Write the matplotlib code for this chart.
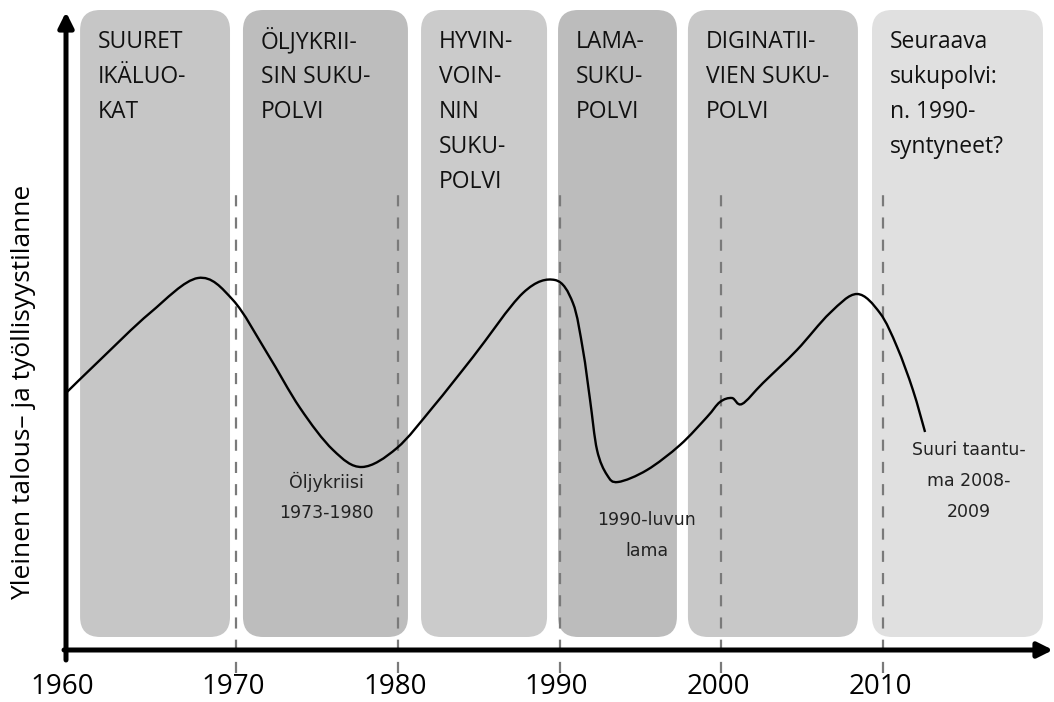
import matplotlib
matplotlib.use("Agg")
import matplotlib.pyplot as plt
from matplotlib.patches import FancyBboxPatch, PathPatch
from matplotlib.path import Path
import numpy as np

# ---------------- data ----------------
tick_years = [1960, 1970, 1980, 1990, 2000, 2010]
divider_years = [1970, 1980, 1990, 2000, 2010]

# generation periods (start year, end year)
gen_start = [1960.36, 1970.43, 1981.44, 1989.91, 1997.94, 2009.32]
gen_end = [1969.63, 1980.63, 1989.23, 1997.26, 2008.45, 2019.89]
gen_labels = [
    ["SUURET", "IKÄLUO-", "KAT"],
    ["ÖLJYKRII-", "SIN SUKU-", "POLVI"],
    ["HYVIN-", "VOIN-", "NIN", "SUKU-", "POLVI"],
    ["LAMA-", "SUKU-", "POLVI"],
    ["DIGINATII-", "VIEN SUKU-", "POLVI"],
    ["Seuraava", "sukupolvi:", "n. 1990-", "syntyneet?"],
]
gen_colors = ["#c6c6c6", "#bdbdbd", "#cbcbcb", "#bcbcbc", "#c8c8c8", "#e0e0e0"]

# economic / employment situation curve
curve_year = [1959.55, 1961.59, 1964.68, 1967.65, 1969.81, 1971.92, 1973.96,
              1976.00, 1977.79, 1979.95, 1982.18, 1984.65, 1987.74,
              1989.72, 1990.83, 1991.45, 1991.89, 1992.32, 1992.94, 1993.62,
              1995.41, 1997.45, 1999.12, 1999.92, 2000.66, 2001.28, 2002.58,
              2004.68, 2006.72, 2008.39, 2009.81, 2010.87, 2011.85, 2012.60]
curve_level = [258, 290, 337, 372, 350, 297, 242,
               200, 183, 202, 243, 293, 357,
               370, 347, 300, 250, 200, 175, 168,
               180, 205, 233, 248, 252, 246, 267,
               300, 337, 356, 337, 303, 260, 218]

# crisis annotations
crisis_lines = [["Öljykriisi", "1973-1980"], ["1990-luvun", "lama"],
                ["Suuri taantu-", "ma 2008-", "2009"]]
crisis_year = [1975.6, 1995.4, 2015.3]
crisis_top = [168, 130, 200]

ylabel = "Yleinen talous– ja työllisyystilanne"

# ---------------- figure ----------------
W, H = 1054, 702
fig = plt.figure(figsize=(W / 100, H / 100), dpi=100)
ax = fig.add_axes([0, 0, 1, 1])
px_per_year = 16.175
x0 = 1970 - 236 / px_per_year
ax.set_xlim(x0, x0 + W / px_per_year)
ax.set_ylim(-52, 650)
ax.axis("off")

def px2yr(p):
    return p / px_per_year

# boxes
for s, e, c, lab in zip(gen_start, gen_end, gen_colors, gen_labels):
    box = FancyBboxPatch((s, 13), e - s, 640 - 13,
                         boxstyle="round,pad=0,rounding_size=1.25",
                         mutation_aspect=16.175,
                         facecolor=c, edgecolor="none", zorder=1)
    ax.add_patch(box)
    for i, line in enumerate(lab):
        ax.text(s + px2yr(18), 602 - 35 * i, line, fontsize=16.5,
                family="Open Sans", color="#111111", va="baseline",
                ha="left", zorder=3)

# dashed dividers
for yr in divider_years:
    ax.plot([yr, yr], [-23, 463], color="#7a7a7a", lw=1.6,
            dashes=(5, 5), zorder=2)

# smooth curve through read points (Catmull-Rom -> Bezier)
pts = np.column_stack([curve_year, curve_level]).astype(float)
verts = [tuple(pts[0])]
codes = [Path.MOVETO]
n = len(pts)
for i in range(n - 1):
    p0 = pts[i - 1] if i > 0 else pts[i]
    p1 = pts[i]
    p2 = pts[i + 1]
    p3 = pts[i + 2] if i + 2 < n else pts[i + 1]
    c1 = p1 + (p2 - p0) / 6.0
    c2 = p2 - (p3 - p1) / 6.0
    verts += [tuple(c1), tuple(c2), tuple(p2)]
    codes += [Path.CURVE4] * 3
ax.add_patch(PathPatch(Path(verts, codes), facecolor="none",
                       edgecolor="black", lw=1.7, zorder=4))

# crisis annotations
for lines, yr, top in zip(crisis_lines, crisis_year, crisis_top):
    for i, line in enumerate(lines):
        ax.text(yr, top - 31 * i, line, fontsize=12.5, family="DejaVu Sans",
                color="#222222", ha="center", va="center", zorder=5)

# axes arrows
y_axis_x = 1970 - (236 - 66) / px_per_year
ax.annotate("", xy=(y_axis_x, 638), xytext=(y_axis_x, -10),
            arrowprops=dict(arrowstyle="-|>,head_length=0.9,head_width=0.45",
                            lw=3.6, color="black", shrinkA=0, shrinkB=0),
            zorder=6)
ax.annotate("", xy=(x0 + 1053 / px_per_year, 0),
            xytext=(y_axis_x - px2yr(2), 0),
            arrowprops=dict(arrowstyle="-|>,head_length=0.9,head_width=0.45",
                            lw=3.6, color="black", shrinkA=0, shrinkB=0),
            zorder=6)

# tick labels
for yr in tick_years:
    dx = -12 if yr == tick_years[0] else -3
    ax.annotate(str(yr), xy=(yr, -37), xytext=(dx, 0),
                textcoords="offset pixels", ha="center", va="center",
                fontsize=20, family="Open Sans", color="black")

# y label
ax.text(x0 + px2yr(24), 258, ylabel, rotation=90, fontsize=19,
        family="Open Sans", ha="center", va="center", color="black")

fig.savefig("out.png", dpi=100)
